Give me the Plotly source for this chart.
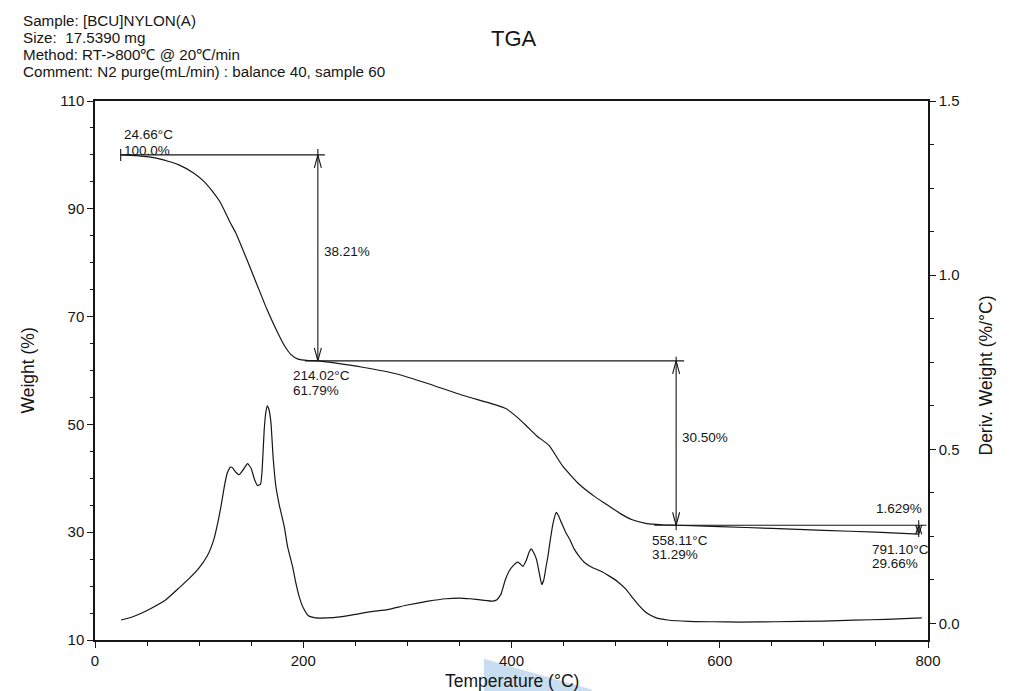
import plotly.graph_objects as go

# ---------------- data ----------------
header_lines = [
    "Sample: [BCU]NYLON(A)",
    "Size:  17.5390 mg",
    "Method: RT->800\u2103 @ 20\u2103/min",
    "Comment: N2 purge(mL/min) : balance 40, sample 60",
]
title_text = "TGA"

temp_w = [24.66, 40, 60, 80, 95, 105, 113, 120, 126, 130, 135, 145, 155, 165, 175, 182,
          188, 195, 205, 214.02, 230, 257, 289, 321, 353, 380, 395, 405, 414, 424,
          436, 449, 465, 480, 491, 505, 516, 530, 545, 558.11, 600, 650, 700, 750, 791.10]
weight = [100.0, 99.85, 99.35, 98.2, 96.6, 95.0, 93.2, 91.3, 89.0, 87.4, 85.6, 81.0, 76.2,
          71.4, 67.2, 64.6, 63.0, 62.1, 61.85, 61.79, 61.4, 60.6, 59.4, 57.5, 55.4, 53.9,
          52.9, 51.4, 49.8, 47.9, 46.1, 42.3, 38.9, 36.6, 35.2, 33.4, 32.3, 31.6, 31.38,
          31.29, 31.05, 30.7, 30.35, 30.0, 29.66]

temp_d = [25, 35, 45, 55, 68, 80, 90, 100, 108, 114, 118, 121, 124, 127, 130, 132, 135,
          138.5, 142, 146.5, 150, 153, 156, 159, 160.5, 162.5, 164, 165.5, 167, 169, 171,
          173.7, 177, 181.7, 185, 189.7, 193, 196, 200, 205, 212, 222, 235, 250, 265, 281,
          300, 320, 337, 350, 360, 372, 382, 386, 390, 394, 398, 401, 406, 408, 411, 414,
          417, 419, 421, 424, 427, 429, 431, 433, 435, 437.5, 440, 443, 445, 448, 452, 456,
          460, 465, 471, 478, 486, 494, 502, 510, 516, 523, 530, 539, 550, 570, 592, 620,
          654, 700, 729, 760, 794]
deriv = [0.010, 0.018, 0.030, 0.045, 0.068, 0.100, 0.128, 0.160, 0.195, 0.240, 0.290,
         0.336, 0.390, 0.432, 0.449, 0.447, 0.435, 0.427, 0.440, 0.459, 0.445, 0.415,
         0.396, 0.400, 0.440, 0.556, 0.605, 0.625, 0.615, 0.576, 0.480, 0.394, 0.340,
         0.279, 0.220, 0.164, 0.115, 0.078, 0.045, 0.022, 0.016, 0.016, 0.019, 0.026,
         0.034, 0.040, 0.053, 0.064, 0.071, 0.073, 0.071, 0.067, 0.064, 0.068, 0.085,
         0.125, 0.152, 0.164, 0.176, 0.172, 0.164, 0.180, 0.205, 0.214, 0.205, 0.184,
         0.140, 0.112, 0.125, 0.160, 0.193, 0.245, 0.289, 0.319, 0.310, 0.289, 0.262,
         0.241, 0.215, 0.193, 0.173, 0.160, 0.150, 0.136, 0.120, 0.098, 0.075, 0.050,
         0.030, 0.016, 0.010, 0.006, 0.005, 0.004, 0.005, 0.007, 0.0095, 0.012, 0.016]

step_temps = [24.66, 214.02, 558.11, 791.10]
step_weights = [100.0, 61.79, 31.29, 29.66]
step_losses = ["38.21%", "30.50%", "1.629%"]

x_ticks = [0, 200, 400, 600, 800]
y_ticks = [10, 30, 50, 70, 90, 110]
y2_ticks = [0.0, 0.5, 1.0, 1.5]

# ---------------- geometry helpers (pixel -> data scale) ----------------
X_RANGE = [0, 800]
Y_RANGE = [10, 110]
Y2_RANGE = [-0.0474, 1.5]
ML, MR, MT, MB = 95, 82, 101, 51
W, H = 1010, 691
px_per_x = (W - ML - MR) / (X_RANGE[1] - X_RANGE[0])
px_per_y = (H - MT - MB) / (Y_RANGE[1] - Y_RANGE[0])

INK = "#161616"
FONT = "Liberation Sans, Arial, sans-serif"

fig = go.Figure()

fig.add_trace(go.Scatter(x=temp_w, y=weight, mode="lines",
                         line=dict(color=INK, width=1.2, shape="spline", smoothing=0.5),
                         showlegend=False, hoverinfo="skip"))
fig.add_trace(go.Scatter(x=temp_d, y=deriv, mode="lines", yaxis="y2",
                         line=dict(color=INK, width=1.2, shape="spline", smoothing=0.4),
                         showlegend=False, hoverinfo="skip"))


def seg(x0, y0, x1, y1, width=1.1):
    fig.add_trace(go.Scatter(x=[x0, x1], y=[y0, y1], mode="lines",
                             line=dict(color=INK, width=width), showlegend=False,
                             hoverinfo="skip"))


def arrowhead(xt, yt, up, length_px=13, half_w_px=3.5):
    dy = length_px / px_per_y
    dx = half_w_px / px_per_x
    yb = yt - dy if up else yt + dy
    fig.add_trace(go.Scatter(x=[xt - dx, xt, xt + dx], y=[yb, yt, yb], mode="lines",
                             line=dict(color=INK, width=1.1), showlegend=False,
                             hoverinfo="skip"))


def px_y(n):
    return n / px_per_y


def px_x(n):
    return n / px_per_x


t0, t1, t2, t3 = step_temps
w0, w1, w2, w3 = step_weights

# start marker
seg(t0, w0 + px_y(6), t0, w0 - px_y(6))
# horizontal step lines
seg(t0, w0, t1 + px_x(7), w0)
seg(t1 - px_x(13), w1, t2 + px_x(8), w1)
seg(t2 - px_x(22), w2, 800 - px_x(1.5), w2)
# vertical measurement lines
seg(t1, w0 + px_y(6), t1, w1)
seg(t2, w1 + px_y(4), t2, w2 - px_y(5))
seg(t3, w2 + px_y(5), t3, w3 - px_y(3))
# arrowheads
arrowhead(t1, w0, True)
arrowhead(t1, w1, False)
arrowhead(t2, w1, True)
arrowhead(t2, w2, False)
arrowhead(t3, w2, True, length_px=9, half_w_px=3)
arrowhead(t3, w3, False, length_px=9, half_w_px=3)

ann = []


def label(text, x, y, xs=0, ys=0, xanchor="left", size=13.5):
    ann.append(dict(text=text, x=x, y=y, xref="x", yref="y", xshift=xs, yshift=ys,
                    xanchor=xanchor, yanchor="middle", showarrow=False,
                    font=dict(family=FONT, size=size, color=INK)))


label("24.66\u00b0C", t0, w0, xs=1, ys=20)
label("100.0%", t0, w0, xs=1.5, ys=4)
label(step_losses[0], t1, (w0 + w1) / 2, xs=4, ys=6)
label("214.02\u00b0C", t1, w1, xs=-27, ys=-15)
label("61.79%", t1, w1, xs=-27, ys=-30)
label(step_losses[1], t2, (w1 + w2) / 2, xs=4, ys=6)
label("558.11\u00b0C", t2, w2, xs=-26, ys=-15)
label("31.29%", t2, w2, xs=-26, ys=-29)
label(step_losses[2], t3, w2, xs=5, ys=17, xanchor="right")
label("791.10\u00b0C", t3, w3, xs=-49, ys=-15)
label("29.66%", t3, w3, xs=-49, ys=-29)

# header block
for i, line in enumerate(header_lines):
    ann.append(dict(text=line, x=0, y=1, xref="paper", yref="paper",
                    xshift=21 - ML, yshift=MT - 20.5 - 16.9 * i,
                    xanchor="left", yanchor="middle", showarrow=False,
                    font=dict(family=FONT, size=15.2, color=INK)))
# title
ann.append(dict(text=title_text, x=0.5, y=1, xref="paper", yref="paper",
                xshift=2, yshift=MT - 38, xanchor="center", yanchor="middle",
                showarrow=False, font=dict(family=FONT, size=22, color=INK)))
# axis titles
ann.append(dict(text="Temperature (\u00b0C)", x=0.5, y=0, xref="paper", yref="paper",
                yshift=-41, xanchor="center", yanchor="middle", showarrow=False,
                font=dict(family=FONT, size=17.5, color=INK)))
ann.append(dict(text="Weight (%)", x=0, y=0.5, xref="paper", yref="paper",
                xshift=27 - ML, textangle=-90, xanchor="center", yanchor="middle",
                showarrow=False, font=dict(family=FONT, size=17.5, color=INK)))
ann.append(dict(text="Deriv. Weight (%/\u00b0C)", x=1, y=0.5, xref="paper", yref="paper",
                xshift=57, yshift=-5, textangle=-90, xanchor="center", yanchor="middle",
                showarrow=False, font=dict(family=FONT, size=17.5, color=INK)))

axis_common = dict(showgrid=False, zeroline=False, showline=True, linecolor=INK,
                   ticks="outside", tickcolor=INK, tickwidth=1.2, ticklen=6,
                   tickfont=dict(family=FONT, size=15, color=INK))

fig.update_layout(
    width=W, height=H,
    margin=dict(l=ML, r=MR, t=MT, b=MB, pad=0),
    paper_bgcolor="white", plot_bgcolor="white",
    showlegend=False,
    annotations=ann,
    shapes=[dict(type="path", xref="paper", yref="paper",
                 path="M 0.467 -0.035 L 0.596 -0.092 L 0.596 -0.1 L 0.467 -0.1 Z",
                 fillcolor="#c9ddf0", line=dict(width=0), layer="below")],
    xaxis=dict(range=X_RANGE, tickvals=x_ticks, linewidth=1.8, mirror=True,
               minor=dict(dtick=50, tick0=0, ticks="outside", ticklen=4, tickcolor=INK),
               **axis_common),
    yaxis=dict(range=Y_RANGE, tickvals=y_ticks, linewidth=1.5,
               minor=dict(dtick=5, tick0=10, ticks="outside", ticklen=3, tickcolor=INK),
               **axis_common),
    yaxis2=dict(range=Y2_RANGE, tickvals=y2_ticks, tickformat=".1f", overlaying="y",
                side="right", linewidth=1.5,
                minor=dict(dtick=0.125, tick0=0, ticks="outside", ticklen=4, tickcolor=INK),
                **axis_common),
)

fig.write_html("out.html")
